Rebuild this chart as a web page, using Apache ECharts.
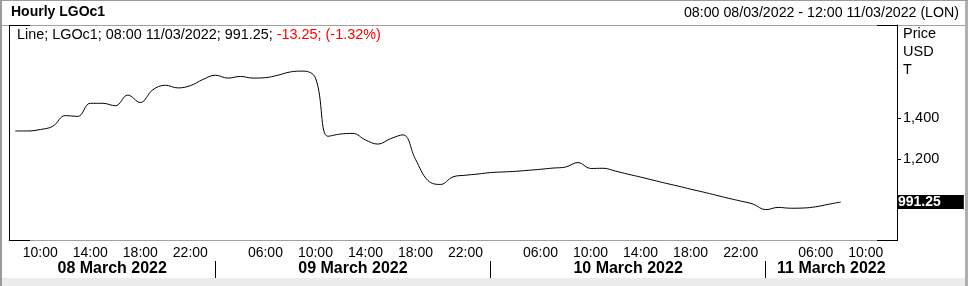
<!DOCTYPE html>
<html><head><meta charset="utf-8">
<script src="https://cdn.jsdelivr.net/npm/echarts@6/dist/echarts.min.js"></script>
<style>html,body{margin:0;padding:0;background:#fff;overflow:hidden}#c{width:968px;height:286px}</style>
</head><body><div id="c"></div>
<script>
// ---- data ----
const dayNames = ['08 March 2022', '09 March 2022', '10 March 2022', '11 March 2022'];
const dayFirstHour = [8, 1, 1, 1];
const dayLastHour = [22, 22, 22, 12];
const labelHours = ['06:00', '10:00', '14:00', '18:00', '22:00'];
const prices = [
  1338, 1338, 1345, 1361, 1413, 1409, 1473, 1473, 1461, 1513,
  1477, 1539, 1561, 1548, 1559, 1589, 1610, 1596, 1604, 1596,
  1598, 1610, 1626, 1630, 1597, 1312, 1323, 1326, 1294, 1274,
  1300, 1319, 1200, 1096, 1077, 1114, 1122, 1128, 1135, 1138,
  1141, 1146, 1151, 1157, 1162, 1184, 1155, 1156, 1142, 1127,
  1113, 1098, 1083, 1069, 1054, 1040, 1025, 1010, 996, 981,
  954, 965, 961, 962, 968, 980, 991.25
];
const yTickValues = [1200, 1400];
const lastValue = 991.25;
const changeAbs = '-13.25';
const changePct = '(-1.32%)';

// ---- categories ----
const cats = [], dayStart = [];
dayNames.forEach((d, di) => {
  dayStart.push(cats.length);
  for (let h = dayFirstHour[di]; h <= dayLastHour[di]; h++) {
    cats.push(String(h).padStart(2, '0') + ':00');
  }
});
const N = cats.length;
const seps = dayStart.slice(1).map(s => s + 1);
const bounds = [-0.5].concat(seps, [N - 0.5]);
const mids = dayNames.map((d, i) => (bounds[i] + bounds[i + 1]) / 2);
const sepSet = new Set(seps);

const FONT = "'Liberation Sans', Arial, sans-serif";
const chart = echarts.init(document.getElementById('c'), null, {renderer: 'canvas'});
const gray = '#a0a0a0';
chart.setOption({
  animation: false,
  backgroundColor: '#fff',
  textStyle: {fontFamily: FONT},
  grid: {left: 9, right: 71, top: 25, bottom: 46, containLabel: false},
  xAxis: [{
    type: 'category', data: cats, boundaryGap: true, position: 'bottom',
    axisLine: {onZero: false, lineStyle: {color: gray, width: 1}},
    axisTick: {alignWithLabel: true, length: 4, lineStyle: {color: '#606060'},
      interval: (i, v) => labelHours.includes(cats[i]) || sepSet.has(i)},
    axisLabel: {interval: (i, v) => labelHours.includes(v), color: '#000', fontSize: 14, margin: 6, fontFamily: FONT},
    splitLine: {show: false}
  }, {
    type: 'value', min: -0.5, max: N - 0.5, position: 'bottom', offset: 21,
    axisLine: {show: false, onZero: false},
    axisTick: {show: true, customValues: seps, length: 18, lineStyle: {color: '#000'}},
    axisLabel: {show: true, customValues: mids, margin: 0, fontSize: 16, fontWeight: 'bold', color: '#000', fontFamily: FONT,
      formatter: v => { const k = mids.findIndex(m => Math.abs(m - v) < 1e-6); return k >= 0 ? dayNames[k] : ''; }},
    splitLine: {show: false}
  }],
  yAxis: {
    type: 'value', position: 'right', min: 806, max: 1855,
    axisLine: {show: true, onZero: false, lineStyle: {color: '#000'}},
    axisTick: {show: true, customValues: yTickValues, length: 4, lineStyle: {color: '#000'}},
    axisLabel: {customValues: yTickValues, color: '#000', fontSize: 14.5, margin: 6, fontFamily: FONT,
      formatter: v => v.toLocaleString('en-US')},
    splitLine: {show: false}
  },
  series: [{
    type: 'line', data: prices, xAxisIndex: 0, yAxisIndex: 0,
    symbol: 'none', smooth: 0.4,
    lineStyle: {color: '#000', width: 1},
    markLine: {
      silent: true, symbol: ['none', 'none'],
      lineStyle: {color: 'rgba(0,0,0,0)', width: 1, type: 'solid'},
      data: [{yAxis: lastValue}],
      label: {show: true, position: 'end', distance: 0, formatter: String(lastValue),
        color: '#fff', backgroundColor: '#000', fontWeight: 'bold', fontSize: 14, fontFamily: FONT,
        padding: [0, 23, 0, 1], lineHeight: 14}
    }
  }],
  graphic: [
    {type: 'rect', z: 100, shape: {x: 0, y: 278, width: 968, height: 8}, style: {fill: '#ececec'}},
    {type: 'rect', z: 100, shape: {x: 0, y: 0, width: 2, height: 286}, style: {fill: '#9a9a9a'}},
    {type: 'rect', z: 100, shape: {x: 965, y: 0, width: 3, height: 286}, style: {fill: '#b0b0b0'}},
    {type: 'rect', z: 100, shape: {x: 0, y: 0, width: 968, height: 1}, style: {fill: '#9a9a9a'}},
    {type: 'rect', z: 100, shape: {x: 2, y: 25, width: 963, height: 1}, style: {fill: gray}},
    {type: 'rect', z: 101, shape: {x: 9, y: 25, width: 1, height: 216}, style: {fill: '#000'}},
    {type: 'rect', z: 101, shape: {x: 9, y: 25, width: 21, height: 1}, style: {fill: '#000'}},
    {type: 'rect', z: 101, shape: {x: 877, y: 25, width: 21, height: 1}, style: {fill: '#000'}},
    {type: 'rect', z: 101, shape: {x: 9, y: 240, width: 21, height: 1}, style: {fill: '#000'}},
    {type: 'rect', z: 101, shape: {x: 877, y: 240, width: 21, height: 1}, style: {fill: '#000'}},
    {type: 'text', z: 102, left: 11, top: 5, style: {text: 'Hourly LGOc1', font: "bold 14px " + FONT, fill: '#000'}},
    {type: 'text', z: 102, right: 9, top: 6, style: {text: '08:00 08/03/2022 - 12:00 11/03/2022 (LON)', font: "14.2px " + FONT, fill: '#000'}},
    {type: 'text', z: 102, left: 17, top: 28, style: {
      text: '{k|Line; LGOc1; 08:00 11/03/2022; 991.25; }{r|' + changeAbs + '; ' + changePct + '}',
      font: "14.4px " + FONT,
      rich: {k: {fill: '#000', font: "14.4px " + FONT}, r: {fill: '#ff0000', font: "14.4px " + FONT}}}},
    {type: 'text', z: 102, left: 903, top: 26, style: {text: 'Price', font: "14.5px " + FONT, fill: '#000'}},
    {type: 'text', z: 102, left: 903, top: 44, style: {text: 'USD', font: "14.5px " + FONT, fill: '#000'}},
    {type: 'text', z: 102, left: 903, top: 62, style: {text: 'T', font: "14.5px " + FONT, fill: '#000'}}
  ]
});
</script>
</body></html>
